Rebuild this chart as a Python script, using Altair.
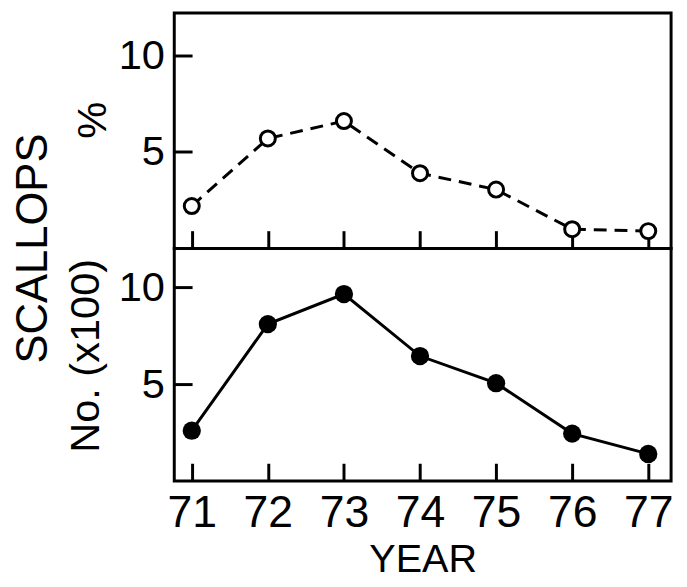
import altair as alt
import pandas as pd

years = [71, 72, 73, 74, 75, 76, 77]
pct = [2.2, 5.7, 6.6, 3.9, 3.05, 1.0, 0.9]
num = [2.6, 8.1, 9.65, 6.45, 5.05, 2.45, 1.4]
y_ticks = [5, 10]
group_label = ["SCALLOPS"]

df = pd.DataFrame({"year": years, "pct": pct, "num": num})

FONT = "Liberation Sans, Arial, sans-serif"
W = 502
TICK = 18

xscale = alt.Scale(domain=[70.77, 77.3], nice=False, zero=False)

x_top = alt.X("year:Q", scale=xscale, title=None,
              axis=alt.Axis(values=years, labels=False, tickSize=TICK, offset=-TICK,
                            domain=False, grid=False, tickWidth=3, tickColor="black"))
x_bot = alt.X("year:Q", scale=xscale, title="YEAR",
              axis=alt.Axis(values=years, format="d", tickSize=TICK, offset=-TICK,
                            domain=False, grid=False, tickWidth=3, tickColor="black",
                            labelPadding=10, labelFont=FONT, labelFontSize=45,
                            labelColor="black", titleFont=FONT, titleFontSize=40,
                            titleFontWeight="normal", titleColor="black", titlePadding=4))

def yaxis(title, tx, ty):
    return alt.Axis(values=y_ticks, tickSize=TICK, offset=-TICK, domain=False, grid=False,
                    tickWidth=3, tickColor="black", labelPadding=10, labelFont=FONT,
                    labelFontSize=42, labelColor="black", title=title, titleFont=FONT,
                    titleFontSize=42, titleFontWeight="normal", titleColor="black",
                    titleX=tx, titleY=ty, titleAlign="center", titleBaseline="middle",
                    titleAngle=270)

base_top = alt.Chart(df).encode(
    x=x_top,
    y=alt.Y("pct:Q", scale=alt.Scale(domain=[0, 12.2], nice=False), axis=yaxis("%", -100, 108)),
)
top = alt.layer(
    base_top.mark_line(color="black", strokeWidth=3, strokeDash=[13, 8]),
    base_top.mark_point(shape="circle", filled=True, fill="white", stroke="black",
                        strokeWidth=3, size=230, opacity=1),
).properties(width=W, height=238)

base_bot = alt.Chart(df).encode(
    x=x_bot,
    y=alt.Y("num:Q", scale=alt.Scale(domain=[0, 12], nice=False),
            axis=yaxis("No. (x100)", -108, 108)),
)
label = alt.Chart(pd.DataFrame({"t": group_label})).mark_text(
    font=FONT, fontSize=44, angle=270, align="center", baseline="middle", color="black"
).encode(text="t:N", x=alt.value(-142), y=alt.value(0))

bot = alt.layer(
    base_bot.mark_line(color="black", strokeWidth=3),
    base_bot.mark_point(shape="circle", filled=True, color="black", size=340, opacity=1),
    label,
).properties(width=W, height=235)

chart = alt.vconcat(top, bot, spacing=0, bounds="flush").properties(
    padding={"left": 2, "top": 0, "right": 4, "bottom": 0},
).configure(background="white").configure_view(stroke="black", strokeWidth=3)

chart.save("out.html", embed_options={"renderer": "svg", "actions": False})
